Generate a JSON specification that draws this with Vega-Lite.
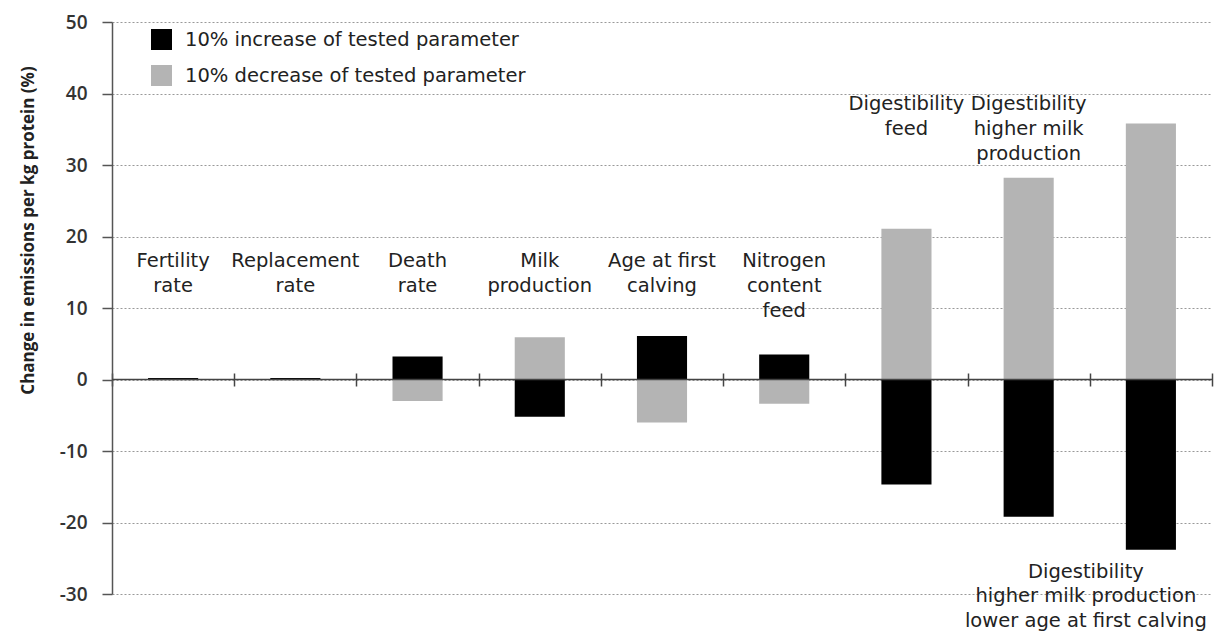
{
  "$schema": "https://vega.github.io/schema/vega-lite/v6.json",
  "width": 1100,
  "height": 572,
  "autosize": {"type": "none"},
  "padding": {"left": 112, "top": 22, "right": 2, "bottom": 43},
  "background": "white",
  "config": {
    "font": "DejaVu Sans",
    "view": {"stroke": null}
  },
  "datasets": {
    "bars": [
      {"cat": "c1", "series": "10% decrease of tested parameter", "value": -0.1},
      {"cat": "c1", "series": "10% increase of tested parameter", "value": 0.2},
      {"cat": "c2", "series": "10% decrease of tested parameter", "value": -0.1},
      {"cat": "c2", "series": "10% increase of tested parameter", "value": 0.2},
      {"cat": "c3", "series": "10% decrease of tested parameter", "value": -3.0},
      {"cat": "c3", "series": "10% increase of tested parameter", "value": 3.2},
      {"cat": "c4", "series": "10% decrease of tested parameter", "value": 5.9},
      {"cat": "c4", "series": "10% increase of tested parameter", "value": -5.2},
      {"cat": "c5", "series": "10% decrease of tested parameter", "value": -6.0},
      {"cat": "c5", "series": "10% increase of tested parameter", "value": 6.1},
      {"cat": "c6", "series": "10% decrease of tested parameter", "value": -3.4},
      {"cat": "c6", "series": "10% increase of tested parameter", "value": 3.5},
      {"cat": "c7", "series": "10% decrease of tested parameter", "value": 21.1},
      {"cat": "c7", "series": "10% increase of tested parameter", "value": -14.7},
      {"cat": "c8", "series": "10% decrease of tested parameter", "value": 28.2},
      {"cat": "c8", "series": "10% increase of tested parameter", "value": -19.2},
      {"cat": "c9", "series": "10% decrease of tested parameter", "value": 35.8},
      {"cat": "c9", "series": "10% increase of tested parameter", "value": -23.8}
    ],
    "labels": [
      {"cat": "c1", "text": ["Fertility", "rate"], "at": 17.9},
      {"cat": "c2", "text": ["Replacement", "rate"], "at": 17.9},
      {"cat": "c3", "text": ["Death", "rate"], "at": 17.9},
      {"cat": "c4", "text": ["Milk", "production"], "at": 17.9},
      {"cat": "c5", "text": ["Age at first", "calving"], "at": 17.9},
      {"cat": "c6", "text": ["Nitrogen", "content", "feed"], "at": 17.9},
      {"cat": "c7", "text": ["Digestibility", "feed"], "at": 39.8},
      {"cat": "c8", "text": ["Digestibility", "higher milk", "production"], "at": 39.8}
    ],
    "labels2": [
      {"cat": "c9", "text": ["Digestibility", "higher milk production", "lower age at first calving"], "at": -25.6}
    ]
  },
  "layer": [
    {
      "data": {"name": "bars"},
      "mark": {"type": "bar", "width": {"band": 0.41}},
      "encoding": {
        "x": {
          "field": "cat", "type": "nominal", "sort": null,
          "scale": {"paddingInner": 0, "paddingOuter": 0},
          "axis": {
            "orient": "bottom", "offset": -221, "domain": false, "labels": false,
            "title": null, "grid": false, "ticks": true, "tickBand": "extent",
            "tickSize": 13, "tickColor": "#444", "tickWidth": 1.5
          }
        },
        "y": {
          "field": "value", "type": "quantitative", "stack": null,
          "scale": {"domain": [-30, 50], "nice": false},
          "axis": {
            "values": [-30, -20, -10, 0, 10, 20, 30, 40, 50],
            "labelExpr": "'' + datum.value",
            "title": "Change in emissions per kg protein (%)",
            "titleFont": "Open Sans",
            "titleFontSize": 17, "titleFontWeight": "bold", "titleColor": "#222",
            "titleX": -84, "titleY": 208, "titleAngle": -90, "titleAlign": "center", "titleBaseline": "middle",
            "labelFont": "Open Sans",
            "labelFontSize": 19, "labelFontWeight": 600, "labelColor": "#333", "labelPadding": 15,
            "tickSize": 10, "tickColor": "#555", "tickWidth": 1.5,
            "domainColor": "#555", "domainWidth": 1.5,
            "grid": true, "gridColor": "#999", "gridDash": [2, 2], "gridWidth": 1
          }
        },
        "color": {
          "field": "series", "type": "nominal",
          "scale": {
            "domain": ["10% increase of tested parameter", "10% decrease of tested parameter"],
            "range": ["#000000", "#b4b4b4"]
          },
          "legend": {
            "title": null, "orient": "none", "legendX": 39, "legendY": 7,
            "symbolType": "square", "symbolSize": 441, "symbolStrokeWidth": 0,
            "labelFontSize": 19.5, "labelColor": "#222", "labelOffset": 13, "labelLimit": 0,
            "rowPadding": 15
          }
        },
        "order": {"field": "series", "sort": "ascending"}
      }
    },
    {
      "data": {"values": [{}]},
      "mark": {"type": "rule", "color": "#444", "strokeWidth": 1.5},
      "encoding": {"y": {"datum": 0}}
    },
    {
      "data": {"name": "labels"},
      "mark": {"type": "text", "baseline": "top", "align": "center", "fontSize": 19.5, "lineHeight": 25, "color": "#222"},
      "encoding": {
        "x": {"field": "cat", "type": "nominal", "sort": null},
        "y": {"field": "at", "type": "quantitative"},
        "text": {"field": "text"}
      }
    },
    {
      "data": {"name": "labels2"},
      "mark": {"type": "text", "baseline": "top", "align": "center", "fontSize": 19.5, "lineHeight": 24.5, "color": "#222", "dx": -65},
      "encoding": {
        "x": {"field": "cat", "type": "nominal", "sort": null},
        "y": {"field": "at", "type": "quantitative"},
        "text": {"field": "text"}
      }
    }
  ]
}
